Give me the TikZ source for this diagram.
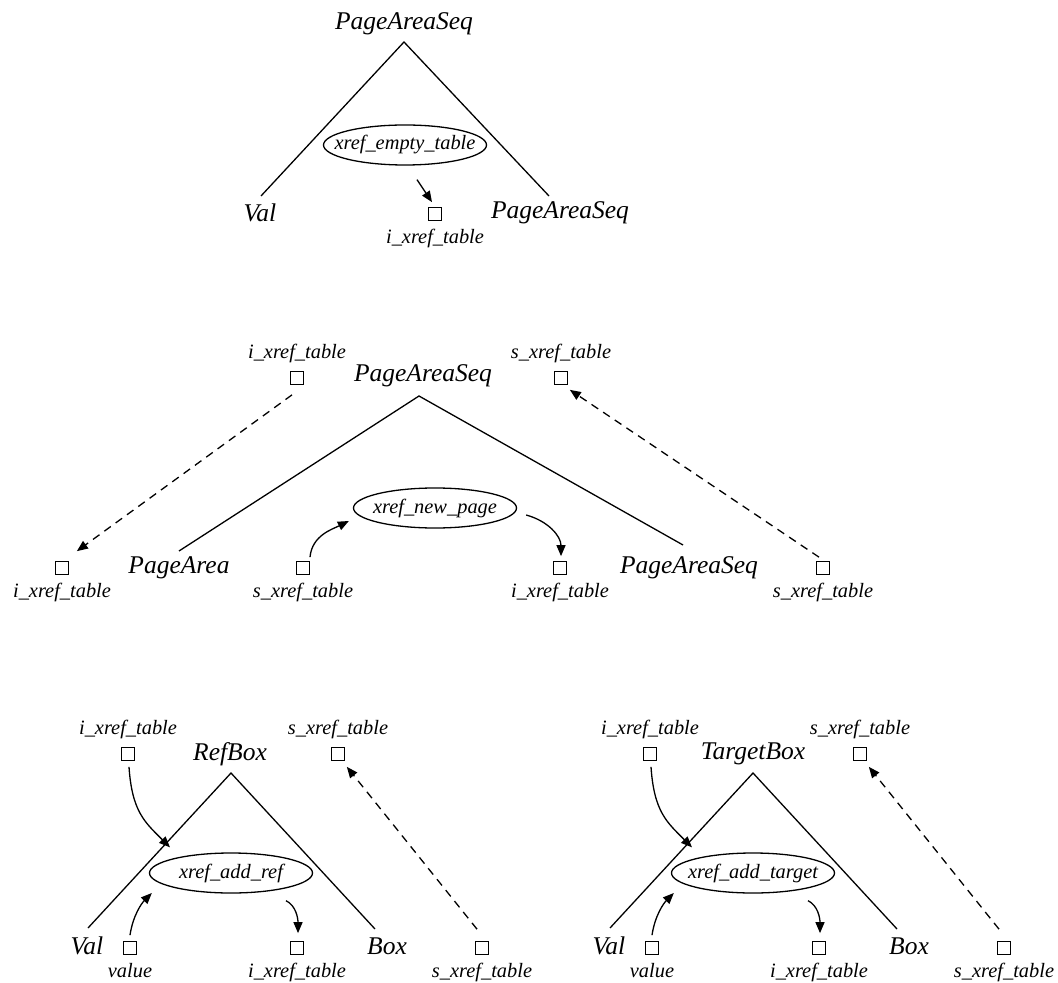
\documentclass[tikz,border=0pt]{standalone}
\usepackage{fontspec}
\setmainfont{Liberation Serif}
\usetikzlibrary{arrows.meta,shapes.geometric}

\tikzset{
  sym/.style={font=\fontsize{12.75}{15}\selectfont\itshape, inner sep=0pt},
  lbl/.style={font=\fontsize{10.2}{12}\selectfont\itshape, inner sep=0pt},
  attr/.style={draw, rectangle, minimum size=6.2pt, inner sep=0pt},
  func/.style={draw, ellipse, minimum width=81.5pt, minimum height=20pt,
    inner sep=0pt, font=\fontsize{10.2}{12}\selectfont\itshape},
  dep/.style={-{Triangle[length=5.5pt,width=4.5pt]}},
  dcopy/.style={dep, dash pattern=on 4pt off 3pt},
  ilab/.style={label={[lbl,label distance=4pt]#1:i\_xref\_table}},
  slab/.style={label={[lbl,label distance=4pt]#1:s\_xref\_table}}
}
% function name inside a fixed size ellipse
\newcommand{\fname}[1]{\makebox[0pt]{#1}}

\begin{document}
\begin{tikzpicture}[x=0.5pt,y=-0.5pt,line width=0.65pt]
	\useasboundingbox (0,0) rectangle (1058,983);

	% PageAreaSeq -> Val PageAreaSeq
	\node[sym] (seq1) at (404,24) {PageAreaSeq};
	\coordinate (top1) at (404,42);
	\coordinate (l1) at (261,196);
	\coordinate (r1) at (549,196);
	\draw (l1) -- (top1) -- (r1);
	\node[sym] (val1) at (260,213) {Val};
	\node[sym] (rest1) at (560,213) {PageAreaSeq};
	\node[func] (f1) at (405,145) {\fname{xref\_empty\_table}};
	\node[attr, ilab=below] (i1) at (435,214) {};
	\draw[dep] ([shift={(12,14)}]f1.south) -- ([shift={(-3,-5)}]i1.north);

	% PageAreaSeq -> PageArea PageAreaSeq
	\node[sym] (seq2) at (423,376) {PageAreaSeq};
	\coordinate (top2) at (419,396);
	\coordinate (l2) at (179,551);
	\coordinate (r2) at (683,545);
	\draw (l2) -- (top2) -- (r2);
	\node[sym] (area2) at (179,568) {PageArea};
	\node[sym] (rest2) at (689,568) {PageAreaSeq};
	\node[func] (f2) at (435,508) {\fname{xref\_new\_page}};
	\node[attr, ilab=above] (ti2) at (297,378) {};
	\node[attr, slab=above] (ts2) at (561,378) {};
	\node[attr, ilab=below] (li2) at (62,568) {};
	\node[attr, slab=below] (ls2) at (303,568) {};
	\node[attr, ilab=below] (ri2) at (560,568) {};
	\node[attr, slab=below] (rs2) at (823,568) {};
	\draw[dcopy] ([shift={(-5,10)}]ti2.south) -- ([shift={(8,-10)}]li2.north east);
	\draw[dcopy] ([shift={(-4,-4)}]rs2.north) -- ([shift={(2,5)}]ts2.south east);
	\draw[dep] ([shift={(7,-4)}]ls2.north) .. controls +(2,-22) and +(-16,8) .. ([shift={(-4,13)}]f2.west);
	\draw[dep] ([shift={(9,7)}]f2.east) .. controls +(22,6) and +(0,-20) .. ([shift={(1,-5)}]ri2.north);

	% RefBox -> Val Box
	\node[sym] (ref3) at (230,754) {RefBox};
	\coordinate (top3) at (231,773);
	\coordinate (l3) at (88,928);
	\coordinate (r3) at (375,929);
	\draw (l3) -- (top3) -- (r3);
	\node[sym] (val3) at (87,946) {Val};
	\node[sym] (box3) at (387,946) {Box};
	\node[func] (f3) at (231,873) {\fname{xref\_add\_ref}};
	\node[attr, ilab=above] (ti3) at (128,754) {};
	\node[attr, slab=above] (ts3) at (338,754) {};
	\node[attr, label={[lbl,label distance=4pt]below:value}] (v3) at (130,948) {};
	\node[attr, ilab=below] (ri3) at (297,948) {};
	\node[attr, slab=below] (rs3) at (482,948) {};
	\draw[dep] ([shift={(1,6)}]ti3.south) .. controls +(3,45) and +(-25,-25) .. ([shift={(-61,-5)}]f3.north);
	\draw[dep] ([shift={(0,-6)}]v3.north) .. controls +(3,-20) and +(-10,10) .. ([shift={(3,20)}]f3.west);
	\draw[dep] ([shift={(55,7)}]f3.south) .. controls +(10,5) and +(0,-15) .. ([shift={(1,-8)}]ri3.north);
	\draw[dcopy] ([shift={(-5,-12)}]rs3.north) -- ([shift={(2,6)}]ts3.south east);

	% TargetBox -> Val Box
	\begin{scope}[xshift=261pt]
		\node[sym] (tgt4) at (231,754) {TargetBox};
		\coordinate (top4) at (231,773);
		\coordinate (l4) at (88,928);
		\coordinate (r4) at (375,929);
		\draw (l4) -- (top4) -- (r4);
		\node[sym] (val4) at (87,946) {Val};
		\node[sym] (box4) at (387,946) {Box};
		\node[func] (f4) at (231,873) {\fname{xref\_add\_target}};
		\node[attr, ilab=above] (ti4) at (128,754) {};
		\node[attr, slab=above] (ts4) at (338,754) {};
		\node[attr, label={[lbl,label distance=4pt]below:value}] (v4) at (130,948) {};
		\node[attr, ilab=below] (ri4) at (297,948) {};
		\node[attr, slab=below] (rs4) at (482,948) {};
		\draw[dep] ([shift={(1,6)}]ti4.south) .. controls +(3,45) and +(-25,-25) .. ([shift={(-61,-5)}]f4.north);
		\draw[dep] ([shift={(0,-6)}]v4.north) .. controls +(3,-20) and +(-10,10) .. ([shift={(3,20)}]f4.west);
		\draw[dep] ([shift={(55,7)}]f4.south) .. controls +(10,5) and +(0,-15) .. ([shift={(1,-8)}]ri4.north);
		\draw[dcopy] ([shift={(-5,-12)}]rs4.north) -- ([shift={(2,6)}]ts4.south east);
	\end{scope}
\end{tikzpicture}
\end{document}
